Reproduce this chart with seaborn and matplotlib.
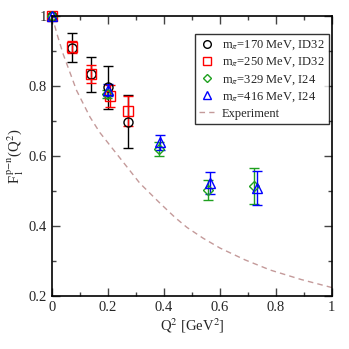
import numpy as np
import pandas as pd
import seaborn as sns
import matplotlib.pyplot as plt
from matplotlib.lines import Line2D
from matplotlib.ticker import MultipleLocator

# lattice data
q2_170 = [0.0, 0.07, 0.139, 0.201, 0.27]
f1_170 = [1.0, 0.91, 0.834, 0.796, 0.698]
er_170 = [0.0, 0.042, 0.05, 0.062, 0.075]

q2_250 = [0.0, 0.07, 0.139, 0.209, 0.272]
f1_250 = [1.0, 0.911, 0.835, 0.771, 0.729]
er_250 = [0.0, 0.017, 0.025, 0.032, 0.043]

q2_329 = [0.0, 0.197, 0.381, 0.556, 0.721]
f1_329 = [1.0, 0.778, 0.620, 0.503, 0.515]
er_329 = [0.0, 0.012, 0.02, 0.028, 0.052]

q2_416 = [0.0, 0.199, 0.386, 0.564, 0.731]
f1_416 = [1.0, 0.789, 0.639, 0.523, 0.508]
er_416 = [0.0, 0.017, 0.022, 0.031, 0.048]

q2_exp = [0.0, 0.02, 0.04, 0.088, 0.136, 0.171, 0.243, 0.314, 0.386, 0.44,
          0.482, 0.54, 0.60, 0.69, 0.78, 0.89, 1.0]
f1_exp = [1.0, 0.943, 0.891, 0.787, 0.711, 0.667, 0.594, 0.522, 0.465, 0.424,
          0.396, 0.365, 0.337, 0.303, 0.274, 0.247, 0.224]

labels = [r"m$_\pi$=170 MeV, ID32", r"m$_\pi$=250 MeV, ID32",
          r"m$_\pi$=329 MeV, I24", r"m$_\pi$=416 MeV, I24", "Experiment"]

sns.set_style("ticks")
plt.rcParams['font.family'] = ['Liberation Serif', 'DejaVu Serif']
plt.rcParams['mathtext.fontset'] = 'stix'

fig = plt.figure(figsize=(3.49, 3.49), dpi=100)
ax = fig.add_axes([0.149, 0.152, 0.802, 0.802])

exp = pd.DataFrame({"Q2": q2_exp, "F1": f1_exp})
sns.lineplot(data=exp, x="Q2", y="F1", ax=ax, color="#c49a9a", lw=1.0,
             dashes=False, sort=False, linestyle=(0, (4, 3)))

series = [
    (q2_170, f1_170, er_170, "o", "black"),
    (q2_250, f1_250, er_250, "s", "red"),
    (q2_329, f1_329, er_329, "D", "#1fa01f"),
    (q2_416, f1_416, er_416, "^", "blue"),
]
handles = []
for q, f, e, m, c in series:
    ms = 5.5 if m == "D" else 6.5
    lines = ax.errorbar(q, f, yerr=e, fmt=m, color=c, mfc="none", mec=c, ms=ms,
                        mew=1.0, elinewidth=1.0, capsize=3.5, capthick=1.0)
    lines[0].set_clip_on(False)
    handles.append(Line2D([], [], ls="none", marker=m, color=c, mfc="none",
                          ms=ms - 1, mew=1.0))
handles.append(Line2D([], [], color="#c49a9a", lw=1.0, ls=(0, (4, 3))))

ax.set_xlim(0, 1)
ax.set_ylim(0.2, 1.0)
ax.xaxis.set_minor_locator(MultipleLocator(0.1))
ax.yaxis.set_minor_locator(MultipleLocator(0.1))
ax.set_yticks([0.2, 0.4, 0.6, 0.8, 1.0])
ax.set_yticklabels(["0.2", "0.4", "0.6", "0.8", "1"])
ax.set_xticks([0, 0.2, 0.4, 0.6, 0.8, 1.0])
ax.set_xticklabels(["0", "0.2", "0.4", "0.6", "0.8", "1"])
ax.tick_params(which="both", direction="in", top=True, right=True,
               labelsize=10.5, width=1.0, color="#444444")
ax.tick_params(which="major", length=6)
ax.tick_params(which="minor", length=3)
for s in ax.spines.values():
    s.set_linewidth(1.2)
    s.set_color("black")

ax.set_xlabel(r"Q$^2$ [GeV$^2$]", fontsize=10.5, labelpad=2)
ax.set_ylabel(r"F$_1^{\,\mathrm{p}\mathrm{-n}}$(Q$^2$)", fontsize=10.5, labelpad=2)

leg = ax.legend(handles, labels, loc="upper right", fontsize=9,
                frameon=True, fancybox=False, edgecolor="black",
                bbox_to_anchor=(0.99, 0.935),
                borderaxespad=0.0, handlelength=1.2, handletextpad=0.6,
                labelspacing=0.3, borderpad=0.35)
leg.get_frame().set_linewidth(1.0)

fig.savefig("out.png", dpi=100)
